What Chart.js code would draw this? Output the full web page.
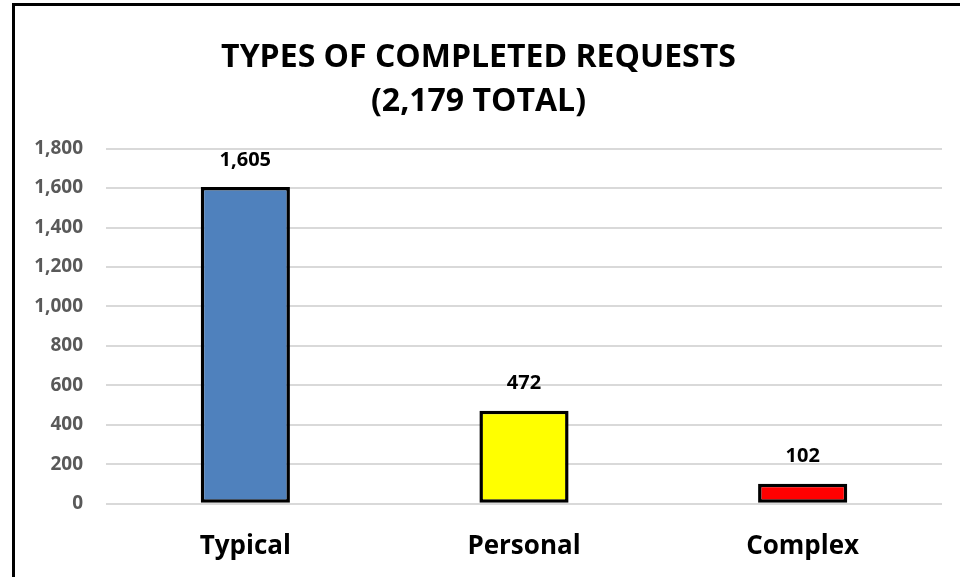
<!DOCTYPE html>
<html>
<head>
<meta charset="utf-8">
<script src="https://cdn.jsdelivr.net/npm/chart.js@4/dist/chart.umd.min.js"></script>
<style>
  html, body { margin: 0; padding: 0; background: #fff; }
  #frame { position: absolute; left: 12px; top: 3px; width: 945px; height: 571px;
           border-top: 3px solid #000; border-left: 3px solid #000; }
  #c { display: block; }
</style>
</head>
<body>
<div id="frame"><canvas id="c" width="945" height="571"></canvas></div>
<script>
const categories = ["Typical", "Personal", "Complex"];
const requestCounts = [1605, 472, 102];
const barColors = ["#4f81bd", "#ffff00", "#ff0000"];
const titleLines = ["TYPES OF COMPLETED REQUESTS", "(2,179 TOTAL)"];
const yMin = 0, yMax = 1800, yStep = 200;

const FONT = "'Open Sans', Lato, sans-serif";

const valueLabels = {
  id: "valueLabels",
  afterDatasetsDraw(chart) {
    const ctx = chart.ctx;
    const meta = chart.getDatasetMeta(0);
    ctx.save();
    ctx.font = "bold 20px " + FONT;
    ctx.fillStyle = "#000";
    ctx.textAlign = "center";
    ctx.textBaseline = "middle";
    meta.data.forEach((bar, i) => {
      ctx.fillText(requestCounts[i].toLocaleString("en-US"), bar.x, bar.y - 27);
    });
    ctx.restore();
  }
};

new Chart(document.getElementById("c"), {
  type: "bar",
  data: {
    labels: categories,
    datasets: [{
      data: requestCounts,
      backgroundColor: barColors,
      borderColor: "#000",
      borderWidth: 3.5,
      borderSkipped: false,
      barPercentage: 0.32,
      categoryPercentage: 1.0
    }]
  },
  options: {
    responsive: false,
    animation: false,
    devicePixelRatio: 1,
    layout: { padding: { top: 0, right: 18, bottom: -12, left: 0 } },
    plugins: {
      legend: { display: false },
      tooltip: { enabled: false },
      title: {
        display: true,
        text: titleLines,
        color: "#000",
        font: { family: FONT, size: 32, weight: "bold", lineHeight: 1.4 },
        padding: { top: 29, bottom: 24 }
      }
    },
    scales: {
      x: {
        grid: { display: false, drawTicks: false },
        border: { display: false },
        ticks: { color: "#000", font: { family: FONT, size: 26, weight: "bold" }, padding: 27 }
      },
      y: {
        min: yMin, max: yMax,
        grid: { color: "#d9d9d9", lineWidth: 2, drawTicks: false },
        border: { display: false },
        ticks: {
          stepSize: yStep,
          color: "#595959",
          font: { family: FONT, size: 19, weight: "bold" },
          padding: 23,
          callback: v => v.toLocaleString("en-US")
        },
        afterFit(scale) { scale.width = 91; }
      }
    }
  },
  plugins: [valueLabels]
});
</script>
</body>
</html>
